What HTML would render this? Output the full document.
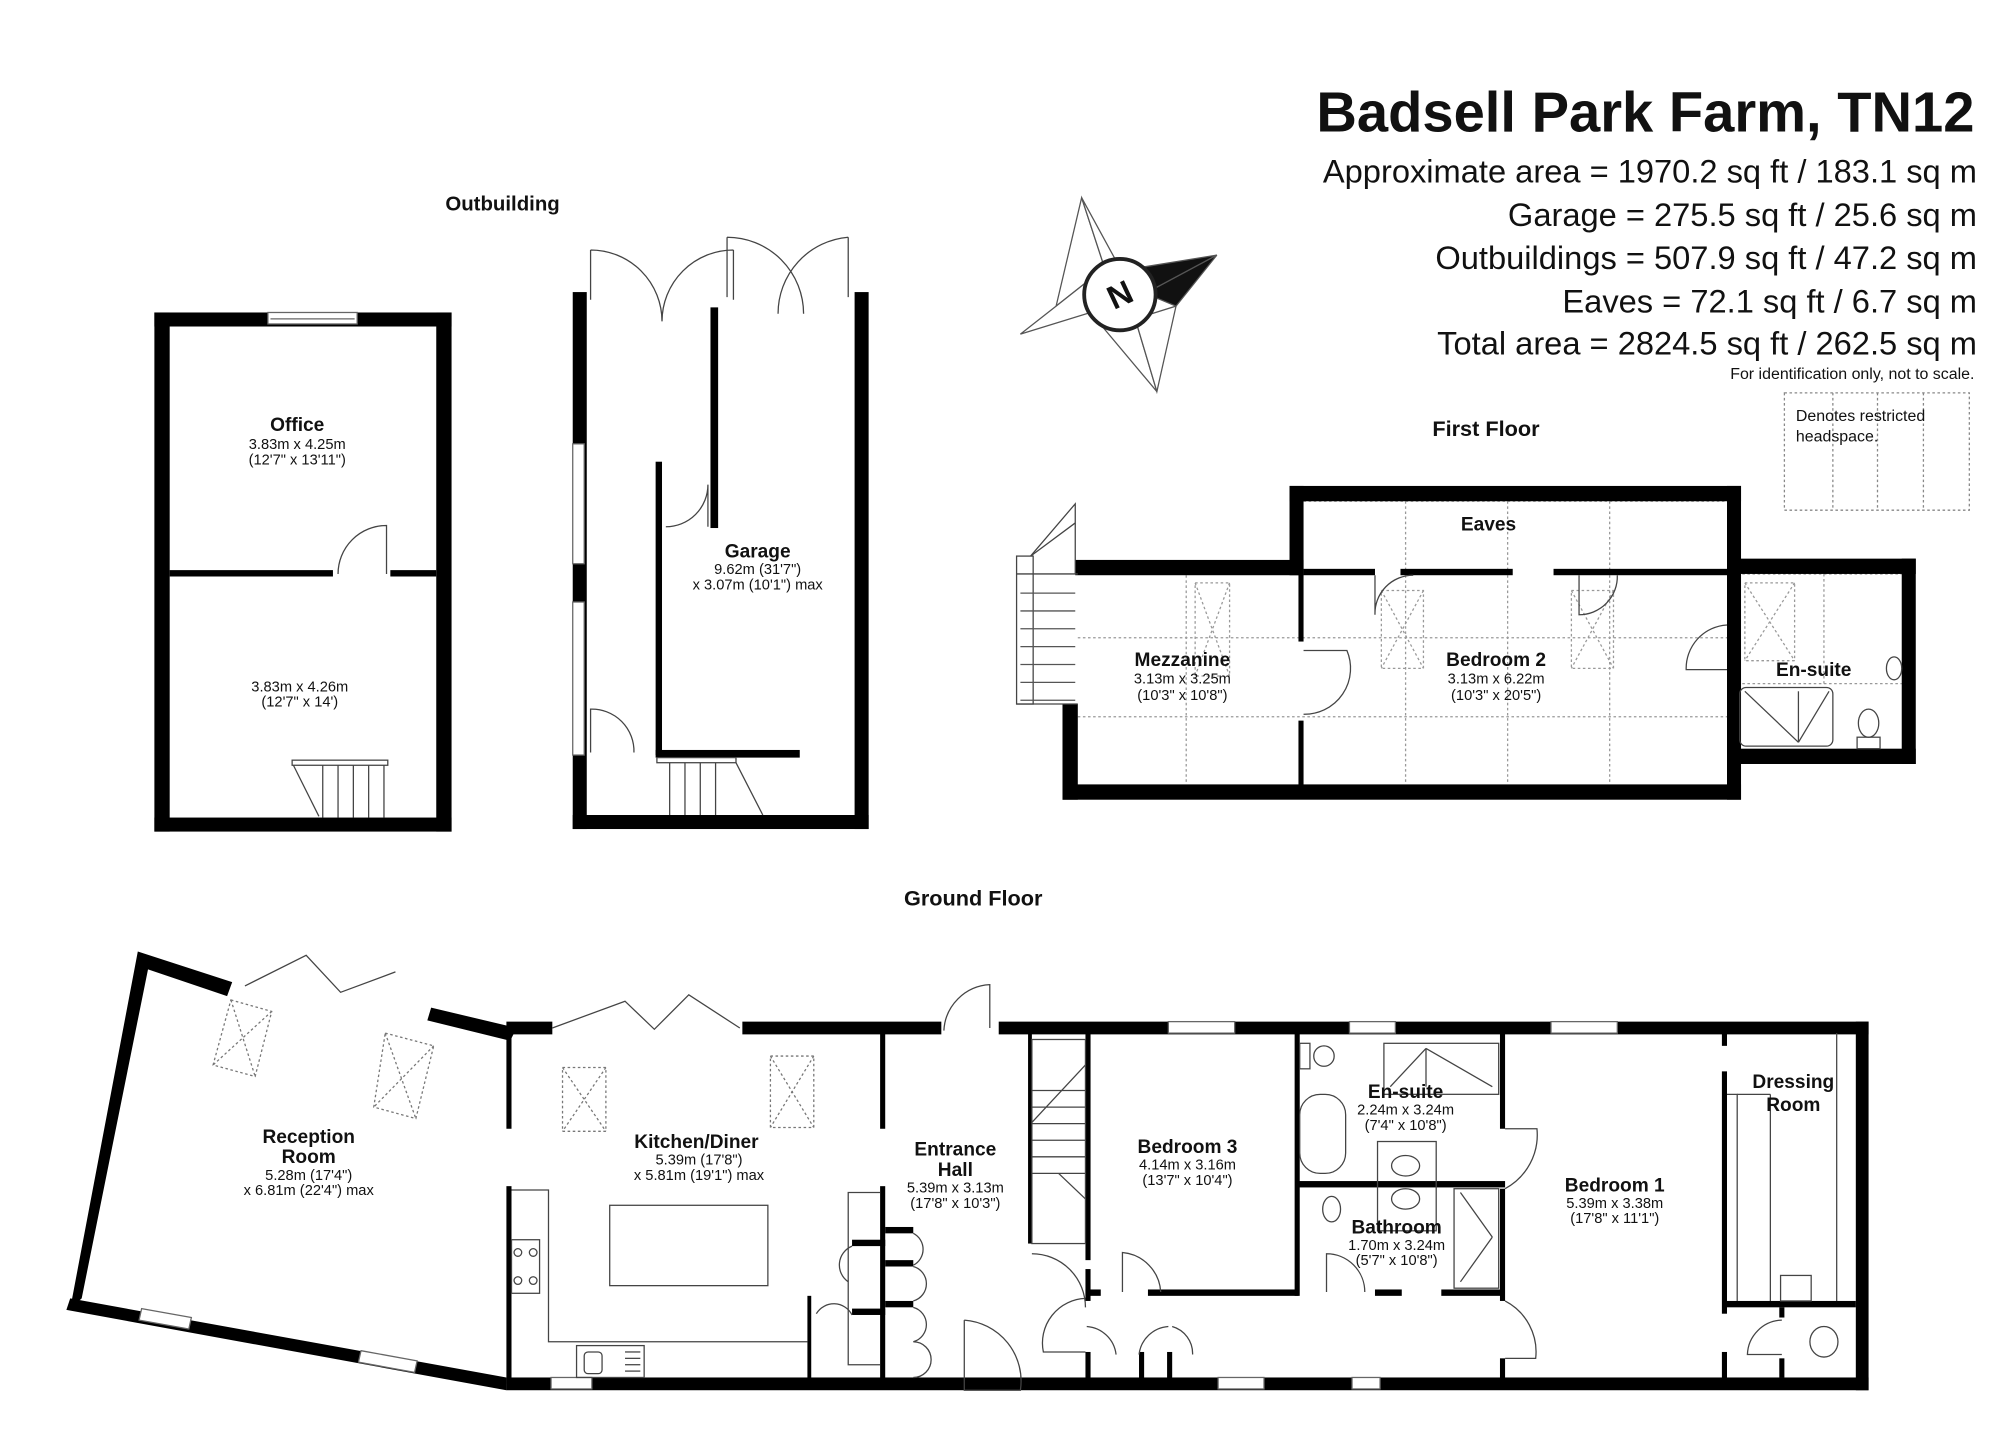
<!DOCTYPE html>
<html><head><meta charset="utf-8"><style>
html,body{margin:0;padding:0;background:#fff;}
svg{display:block;}
text{font-family:"Liberation Sans",Arial,sans-serif;fill:#111;}
.n{font-weight:bold;font-size:15px;}
.d{font-size:11.5px;}
</style></head><body>
<svg width="2000" height="1454" viewBox="0 0 1568 1140" xmlns="http://www.w3.org/2000/svg">
<rect width="1568" height="1140" fill="#fff"/>
<text x="1548" y="103" text-anchor="end" font-size="44" font-weight="bold" style="font-weight:bold">Badsell Park Farm, TN12</text>
<g font-size="25.6" text-anchor="end">
<text x="1550" y="143">Approximate area = 1970.2 sq ft / 183.1 sq m</text>
<text x="1550" y="177">Garage = 275.5 sq ft / 25.6 sq m</text>
<text x="1550" y="211">Outbuildings = 507.9 sq ft / 47.2 sq m</text>
<text x="1550" y="245">Eaves = 72.1 sq ft / 6.7 sq m</text>
<text x="1550" y="278">Total area = 2824.5 sq ft / 262.5 sq m</text>
</g>
<text x="1548" y="297" text-anchor="end" font-size="12.5">For identification only, not to scale.</text>
<g fill="none" stroke="#888" stroke-dasharray="2,2" stroke-width="1">
<rect x="1399" y="308" width="145" height="92"/>
<line x1="1437" y1="308" x2="1437" y2="400"/><line x1="1472" y1="308" x2="1472" y2="400"/><line x1="1508" y1="308" x2="1508" y2="400"/>
</g>
<text x="1408" y="330" font-size="12.5">Denotes restricted</text>
<text x="1408" y="346" font-size="12.5">headspace.</text>

<g stroke="#555" stroke-width="1" fill="#fff">
<polygon points="848,155 866,210 828,240 "/>
<polygon points="848,155 878,210 866,210"/>
<polygon points="800,262 855,245 866,210 828,240"/>
<polygon points="907,307 890,250 855,245"/>
<polygon points="907,307 922,240 890,250"/>
<polygon points="954,200 898,230 922,240" fill="#111"/>
<polygon points="954,200 880,212 898,230" fill="#111"/>
<circle cx="878" cy="231" r="28" stroke="#222" stroke-width="3"/>
</g>
<text x="878" y="240" text-anchor="middle" font-size="26" font-weight="bold" transform="rotate(-25 878 231)">N</text>

<text x="394" y="165" text-anchor="middle" font-size="16" font-weight="bold">Outbuilding</text>
<text x="1165" y="342" text-anchor="middle" font-size="17" font-weight="bold">First Floor</text>
<text x="763" y="710" text-anchor="middle" font-size="17" font-weight="bold">Ground Floor</text>

<g fill="#000">
<rect x="121" y="245" width="233" height="11"/>
<rect x="121" y="245" width="12" height="407"/>
<rect x="342" y="245" width="12" height="407"/>
<rect x="121" y="641" width="233" height="11"/>
<rect x="133" y="447" width="128" height="5"/>
<rect x="306" y="447" width="36" height="5"/>
</g>
<rect x="210" y="245" width="70" height="9" fill="#fff" stroke="#666" stroke-width="1"/>
<line x1="212" y1="250" x2="278" y2="250" stroke="#666"/>
<path d="M265,450 A38,38 0 0 1 303,412 L303,450" fill="none" stroke="#444" stroke-width="1"/>
<g fill="none" stroke="#444" stroke-width="1">
<rect x="229" y="596" width="75" height="4"/>
<line x1="253" y1="600" x2="253" y2="641"/><line x1="265" y1="600" x2="265" y2="641"/><line x1="277" y1="600" x2="277" y2="641"/><line x1="289" y1="600" x2="289" y2="641"/><line x1="301" y1="600" x2="301" y2="641"/>
<polyline points="230,600 250,640"/>
</g>
<text x="233" y="338" text-anchor="middle" class="n">Office</text>
<text x="233" y="352" text-anchor="middle" class="d">3.83m x 4.25m</text>
<text x="233" y="364" text-anchor="middle" class="d">(12'7" x 13'11")</text>
<text x="235" y="542" text-anchor="middle" class="d">3.83m x 4.26m</text>
<text x="235" y="554" text-anchor="middle" class="d">(12'7" x 14')</text>

<g fill="#000">
<rect x="449" y="229" width="11" height="421"/>
<rect x="670" y="229" width="11" height="421"/>
<rect x="449" y="639" width="232" height="11"/>
<rect x="557" y="241" width="6" height="173"/>
<rect x="514" y="362" width="5" height="230"/>
<rect x="514" y="588" width="113" height="6"/>
</g>
<g fill="#fff" stroke="#666" stroke-width="1">
<rect x="449" y="348" width="9" height="94"/><rect x="449" y="472" width="9" height="120"/>
</g>
<g fill="none" stroke="#444" stroke-width="1">
<path d="M463,196 L463,235 M463,196 A56,56 0 0 1 519,252 M575,196 L575,235 M575,196 A56,56 0 0 0 519,252"/>
<path d="M570,186 L570,233 M570,186 A60,60 0 0 1 630,246 M665,186 L665,233 M665,186 A60,60 0 0 0 610,246"/>
<path d="M522,413 A33,33 0 0 0 555,380 L555,413"/>
<path d="M463,590 L463,556 A33,33 0 0 1 497,590"/>
<rect x="515" y="594" width="62" height="4"/>
<line x1="525" y1="598" x2="525" y2="639"/><line x1="537" y1="598" x2="537" y2="639"/><line x1="549" y1="598" x2="549" y2="639"/><line x1="561" y1="598" x2="561" y2="639"/>
<polyline points="577,598 598,639"/>
</g>
<text x="594" y="437" text-anchor="middle" class="n">Garage</text>
<text x="594" y="450" text-anchor="middle" class="d">9.62m (31'7")</text>
<text x="594" y="462" text-anchor="middle" class="d">x 3.07m (10'1") max</text>

<g fill="none" stroke="#999" stroke-width="1" stroke-dasharray="2,2">
<line x1="845" y1="500" x2="1354" y2="500"/><line x1="845" y1="562" x2="1354" y2="562"/>
<line x1="930" y1="451" x2="930" y2="615"/><line x1="1102" y1="393" x2="1102" y2="450"/><line x1="1182" y1="393" x2="1182" y2="450"/><line x1="1262" y1="393" x2="1262" y2="450"/>
<line x1="1102" y1="451" x2="1102" y2="615"/><line x1="1182" y1="451" x2="1182" y2="615"/><line x1="1262" y1="451" x2="1262" y2="615"/>
<line x1="1022" y1="393" x2="1354" y2="393"/><line x1="1358" y1="450" x2="1491" y2="450"/>
<line x1="1430" y1="450" x2="1430" y2="536"/><line x1="1358" y1="536" x2="1491" y2="536"/>
<rect x="937" y="457" width="27" height="73"/><line x1="937" y1="457" x2="964" y2="530"/><line x1="964" y1="457" x2="937" y2="530"/>
<rect x="1083" y="463" width="33" height="61"/><line x1="1083" y1="463" x2="1116" y2="524"/><line x1="1116" y1="463" x2="1083" y2="524"/>
<rect x="1232" y="463" width="33" height="61"/><line x1="1232" y1="463" x2="1265" y2="524"/><line x1="1265" y1="463" x2="1232" y2="524"/>
<rect x="1368" y="457" width="39" height="61"/><line x1="1368" y1="457" x2="1407" y2="518"/><line x1="1407" y1="457" x2="1368" y2="518"/>
</g>
<g fill="#000">
<rect x="843" y="439" width="179" height="12"/>
<rect x="1011" y="381" width="354" height="12"/>
<rect x="1011" y="381" width="11" height="70"/>
<rect x="1354" y="381" width="11" height="246"/>
<rect x="833" y="552" width="12" height="75"/>
<rect x="833" y="615" width="532" height="12"/>
<rect x="1354" y="438" width="148" height="12"/>
<rect x="1491" y="438" width="11" height="161"/>
<rect x="1360" y="587" width="142" height="12"/>
<rect x="1022" y="446" width="56" height="5"/>
<rect x="1098" y="446" width="88" height="5"/>
<rect x="1218" y="446" width="136" height="5"/>
<rect x="1018" y="450" width="4" height="53"/>
<rect x="1018" y="565" width="4" height="52"/>
<rect x="1354" y="450" width="4" height="37"/>
<rect x="1354" y="545" width="4" height="45"/>
</g>
<g fill="none" stroke="#444" stroke-width="1">
<path d="M1022,510 L1056,510 A36,36 0 0 1 1022,560"/>
<path d="M1078,451 L1078,482 A30,30 0 0 1 1108,451"/>
<path d="M1268,451 A30,30 0 0 1 1238,482 L1238,451"/>
<path d="M1354,490 A34,34 0 0 0 1322,525 L1354,525"/>
<rect x="797" y="436" width="13" height="116"/>
<line x1="797" y1="450" x2="845" y2="450"/>
<g stroke="#555"><line x1="800" y1="465" x2="843" y2="465"/><line x1="800" y1="479" x2="843" y2="479"/><line x1="800" y1="493" x2="843" y2="493"/><line x1="800" y1="507" x2="843" y2="507"/><line x1="800" y1="521" x2="843" y2="521"/><line x1="800" y1="535" x2="843" y2="535"/><line x1="800" y1="549" x2="843" y2="549"/></g>
<line x1="797" y1="552" x2="845" y2="552"/>
<polyline points="808,436 843,395 843,450"/>
<polyline points="808,436 843,410"/>
<rect x="1364" y="539" width="73" height="46" rx="5"/>
<line x1="1368" y1="542" x2="1410" y2="582"/><line x1="1434" y1="542" x2="1410" y2="582"/><line x1="1410" y1="542" x2="1410" y2="582"/>
<ellipse cx="1465" cy="567" rx="8" ry="11"/><rect x="1456" y="578" width="18" height="9"/>
<ellipse cx="1485" cy="524" rx="6" ry="9"/>
</g>
<text x="927" y="522" text-anchor="middle" class="n">Mezzanine</text>
<text x="927" y="536" text-anchor="middle" class="d">3.13m x 3.25m</text>
<text x="927" y="549" text-anchor="middle" class="d">(10'3" x 10'8")</text>
<text x="1167" y="416" text-anchor="middle" class="n">Eaves</text>
<text x="1173" y="522" text-anchor="middle" class="n">Bedroom 2</text>
<text x="1173" y="536" text-anchor="middle" class="d">3.13m x 6.22m</text>
<text x="1173" y="549" text-anchor="middle" class="d">(10'3" x 20'5")</text>
<text x="1422" y="530" text-anchor="middle" class="n">En-suite</text>

<g fill="none" stroke="#777" stroke-width="1" stroke-dasharray="2,2">
<polygon points="181,784 213,793 200,844 167,835"/><line x1="181" y1="784" x2="200" y2="844"/><line x1="213" y1="793" x2="167" y2="835"/>
<polygon points="302,810 340,820 326,877 293,868"/><line x1="302" y1="810" x2="326" y2="877"/><line x1="340" y1="820" x2="293" y2="868"/>
<rect x="441" y="837" width="34" height="50"/><line x1="441" y1="837" x2="475" y2="887"/><line x1="475" y1="837" x2="441" y2="887"/>
<rect x="604" y="828" width="34" height="56"/><line x1="604" y1="828" x2="638" y2="884"/><line x1="638" y1="828" x2="604" y2="884"/>
</g>
<g fill="#000">
<polygon points="108,746 182,770 178,781 116,760 64,1018 55,1026"/>
<polygon points="55,1018 397,1080 397,1090 52,1027"/>
<polygon points="338,790 405,806 400,816 335,800"/>
<rect x="397" y="801" width="36" height="10"/>
<rect x="582" y="801" width="156" height="10"/>
<rect x="783" y="801" width="682" height="10"/>
<rect x="1455" y="801" width="10" height="289"/>
<rect x="397" y="1080" width="1068" height="10"/>
<rect x="397" y="810" width="4" height="75"/>
<rect x="397" y="930" width="4" height="155"/>
<rect x="690" y="810" width="4" height="75"/>
<rect x="690" y="930" width="4" height="155"/>
<rect x="633" y="1016" width="3" height="66"/>
<rect x="694" y="962" width="22" height="5"/><rect x="694" y="988" width="22" height="5"/><rect x="694" y="1020" width="22" height="5"/>
<rect x="668" y="972" width="26" height="5"/><rect x="668" y="1026" width="26" height="5"/>
<rect x="851" y="810" width="4" height="178"/>
<rect x="851" y="995" width="4" height="25"/>
<rect x="851" y="1011" width="12" height="5"/>
<rect x="900" y="1011" width="118" height="5"/>
<rect x="1015" y="810" width="4" height="206"/>
<rect x="1018" y="926" width="162" height="5"/>
<rect x="1078" y="1011" width="21" height="5"/>
<rect x="1130" y="1011" width="48" height="5"/>
<rect x="1176" y="810" width="4" height="75"/>
<rect x="1176" y="932" width="4" height="88"/>
<rect x="1176" y="1065" width="4" height="20"/>
<rect x="806" y="810" width="3" height="165"/>
<rect x="1350" y="810" width="4" height="10"/>
<rect x="1350" y="840" width="4" height="190"/>
<rect x="1350" y="1060" width="4" height="25"/>
<rect x="1352" y="1020" width="103" height="5"/>
<rect x="1395" y="1025" width="4" height="8"/><rect x="1395" y="1065" width="4" height="15"/>
<rect x="851" y="1060" width="4" height="22"/><rect x="893" y="1060" width="4" height="22"/><rect x="915" y="1060" width="4" height="22"/>
</g>
<g fill="#fff" stroke="#666" stroke-width="1">
<polygon points="111,1026 150,1033 148,1042 109,1035"/>
<polygon points="283,1059 327,1067 325,1076 281,1068"/>
<rect x="432" y="1080" width="32" height="9"/>
<rect x="916" y="801" width="52" height="9"/><rect x="1058" y="801" width="36" height="9"/><rect x="1216" y="801" width="52" height="9"/>
<rect x="955" y="1080" width="36" height="9"/><rect x="1060" y="1080" width="22" height="9"/>
</g>
<g fill="none" stroke="#444" stroke-width="1">
<polyline points="192,773 240,749 267,778 310,762"/>
<polyline points="433,806 490,785 513,807 540,780 580,806"/>
<path d="M740,808 A38,38 0 0 1 776,772 L776,806"/>
<polyline points="401,933 430,933 430,1052 633,1052"/>
<rect x="478" y="945" width="124" height="63"/>
<rect x="401" y="972" width="22" height="42"/>
<circle cx="406" cy="982" r="3"/><circle cx="418" cy="982" r="3"/><circle cx="406" cy="1004" r="3"/><circle cx="418" cy="1004" r="3"/>
<rect x="452" y="1055" width="53" height="25"/>
<rect x="458" y="1060" width="14" height="17" rx="3"/>
<line x1="490" y1="1060" x2="502" y2="1060"/><line x1="490" y1="1065" x2="502" y2="1065"/><line x1="490" y1="1070" x2="502" y2="1070"/><line x1="490" y1="1075" x2="502" y2="1075"/>
<polyline points="690,935 665,935 665,1070 690,1070"/>
<path d="M668,977 A16,16 0 0 0 665,1005 M668,1031 A16,16 0 0 0 640,1030"/>
<path d="M716,967 A14,14 0 0 1 716,992 M716,993 A14,14 0 0 1 716,1020 M716,1025 A14,14 0 0 1 716,1052 M716,1052 A14,14 0 0 1 716,1080"/>
<path d="M756,1035 L756,1090 L800,1090 A48,48 0 0 0 756,1035"/>
<rect x="809" y="815" width="42" height="160" fill="none"/>
<line x1="809" y1="855" x2="851" y2="855"/><line x1="809" y1="868" x2="851" y2="868"/><line x1="809" y1="881" x2="851" y2="881"/><line x1="809" y1="894" x2="851" y2="894"/><line x1="809" y1="907" x2="851" y2="907"/><line x1="809" y1="920" x2="851" y2="920"/>
<line x1="809" y1="880" x2="851" y2="835"/><line x1="830" y1="920" x2="851" y2="940"/>
<path d="M809,983 A42,42 0 0 1 851,1025"/>
<path d="M880,1013 L880,982 A33,33 0 0 1 910,1013"/>
<path d="M851,1018 A35,35 0 0 0 818,1060 L851,1060"/>
<path d="M852,1040 A25,25 0 0 1 875,1062 M916,1040 A25,25 0 0 0 893,1062 M919,1040 A22,22 0 0 1 935,1062"/>
<path d="M1040,1013 L1040,983 A30,30 0 0 1 1070,1013"/>
<path d="M1180,885 L1205,885 A48,48 0 0 1 1180,932"/>
<path d="M1180,1020 A45,45 0 0 1 1204,1065 L1180,1065"/>
<path d="M1397,1035 A28,28 0 0 0 1370,1062 L1397,1062"/>
<ellipse cx="1430" cy="1052" rx="11" ry="12"/>
<polyline points="1354,858 1362,858 1362,1020"/>
<line x1="1362" y1="858" x2="1388" y2="858"/><line x1="1388" y1="858" x2="1388" y2="1020"/>
<line x1="1440" y1="810" x2="1440" y2="1020"/>
<rect x="1396" y="1000" width="24" height="20"/>
<rect x="1019" y="858" width="36" height="62" rx="16"/>
<ellipse cx="1038" cy="828" rx="8" ry="8"/><rect x="1019" y="818" width="8" height="20"/>
<rect x="1085" y="818" width="90" height="40"/>
<line x1="1090" y1="852" x2="1118" y2="822"/><line x1="1170" y1="852" x2="1118" y2="822"/><line x1="1118" y1="822" x2="1118" y2="852"/>
<rect x="1080" y="895" width="46" height="70"/>
<ellipse cx="1102" cy="914" rx="11" ry="8"/><ellipse cx="1102" cy="940" rx="11" ry="8"/>
<rect x="1140" y="932" width="35" height="78"/>
<line x1="1145" y1="935" x2="1170" y2="970"/><line x1="1145" y1="1005" x2="1170" y2="970"/>
<ellipse cx="1044" cy="948" rx="7" ry="10"/>
</g>
<text x="242" y="896" text-anchor="middle" class="n">Reception</text>
<text x="242" y="912" text-anchor="middle" class="n">Room</text>
<text x="242" y="925" text-anchor="middle" class="d">5.28m (17'4")</text>
<text x="242" y="937" text-anchor="middle" class="d">x 6.81m (22'4") max</text>
<text x="546" y="900" text-anchor="middle" class="n">Kitchen/Diner</text>
<text x="548" y="913" text-anchor="middle" class="d">5.39m (17'8")</text>
<text x="548" y="925" text-anchor="middle" class="d">x 5.81m (19'1") max</text>
<text x="749" y="906" text-anchor="middle" class="n">Entrance</text>
<text x="749" y="922" text-anchor="middle" class="n">Hall</text>
<text x="749" y="935" text-anchor="middle" class="d">5.39m x 3.13m</text>
<text x="749" y="947" text-anchor="middle" class="d">(17'8" x 10'3")</text>
<text x="931" y="904" text-anchor="middle" class="n">Bedroom 3</text>
<text x="931" y="917" text-anchor="middle" class="d">4.14m x 3.16m</text>
<text x="931" y="929" text-anchor="middle" class="d">(13'7" x 10'4")</text>
<text x="1102" y="861" text-anchor="middle" class="n">En-suite</text>
<text x="1102" y="874" text-anchor="middle" class="d">2.24m x 3.24m</text>
<text x="1102" y="886" text-anchor="middle" class="d">(7'4" x 10'8")</text>
<text x="1095" y="967" text-anchor="middle" class="n">Bathroom</text>
<text x="1095" y="980" text-anchor="middle" class="d">1.70m x 3.24m</text>
<text x="1095" y="992" text-anchor="middle" class="d">(5'7" x 10'8")</text>
<text x="1266" y="934" text-anchor="middle" class="n">Bedroom 1</text>
<text x="1266" y="947" text-anchor="middle" class="d">5.39m x 3.38m</text>
<text x="1266" y="959" text-anchor="middle" class="d">(17'8" x 11'1")</text>
<text x="1406" y="853" text-anchor="middle" class="n">Dressing</text>
<text x="1406" y="871" text-anchor="middle" class="n">Room</text>
</svg>
</body></html>
